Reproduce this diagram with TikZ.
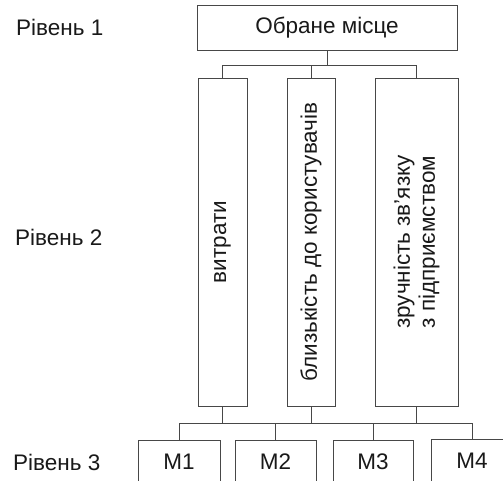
\documentclass[tikz,border=0pt]{standalone}
\usepackage{fontspec}
\setmainfont{Liberation Sans}
\begin{document}
\begin{tikzpicture}[x=1pt,y=-1pt,
  box/.style={draw=black!72,line width=0.9pt,inner sep=0pt,fill=white},
  txt/.style={font=\fontsize{22.5}{25}\selectfont,text=black!90,inner sep=0pt},
  conn/.style={draw=black!72,line width=0.9pt}]
\useasboundingbox (0,0) rectangle (503,480);
\clip (0,0) rectangle (503,480);
% level labels
\node[txt,anchor=west] (l1) at (16,27) {Рівень 1};
\node[txt,anchor=west] (l2) at (15,237) {Рівень 2};
\node[txt,anchor=west] (l3) at (13,462) {Рівень 3};
% level 1
\node[box,minimum width=260pt,minimum height=45pt] (top) at (327,27.5) {};
\node[txt] (toptxt) at (top) {Обране місце};
% level 2
\node[box,minimum width=49pt,minimum height=328pt] (b1) at (222.5,242) {};
\node[box,minimum width=48pt,minimum height=328pt] (b2) at (311,242) {};
\node[box,minimum width=83pt,minimum height=328pt] (b3) at (416.5,242) {};
\node[txt,rotate=90] (t1) at (b1) {витрати};
\node[txt,rotate=90] (t2) at (b2) {близькість до користувачів};
\node[txt,rotate=90,align=center] (t3) at (b3) {зручність зв’язку\\з підприємством};
% level 3
\node[box,minimum width=82pt,minimum height=50pt] (m1) at (179,465) {};
\node[box,minimum width=81pt,minimum height=50pt] (m2) at (275.5,465) {};
\node[box,minimum width=80pt,minimum height=50pt] (m3) at (373,465) {};
\node[box,minimum width=82pt,minimum height=50pt] (m4) at (472,464) {};
\node[txt] (mt1) at (179,462) {M1};
\node[txt] (mt2) at (275.5,462) {M2};
\node[txt] (mt3) at (373,462) {M3};
\node[txt] (mt4) at (472,461) {M4};
% connectors level 1 -> 2
\coordinate (busA) at (0,65);
\coordinate (busB) at (0,423);
\draw[conn] (top.south) -- (top.south |- busA);
\draw[conn] (b1.north) -- (b1.north |- busA) -- (b3.north |- busA) -- (b3.north);
\draw[conn] (b2.north) -- (b2.north |- busA);
% connectors level 2 -> 3
\draw[conn] (b1.south) -- (b1.south |- busB);
\draw[conn] (b2.south) -- (b2.south |- busB);
\draw[conn] (b3.south) -- (b3.south |- busB);
\draw[conn] (m1.north) -- (m1.north |- busB) -- (m4.north |- busB) -- (m4.north);
\draw[conn] (m2.north) -- (m2.north |- busB);
\draw[conn] (m3.north) -- (m3.north |- busB);
\end{tikzpicture}
\end{document}
